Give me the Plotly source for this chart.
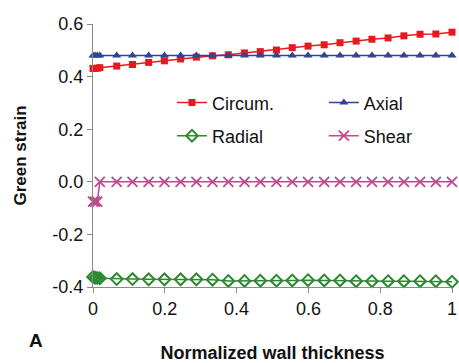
import plotly.graph_objects as go

thickness = [0, 0.006, 0.012, 0.019, 0.066, 0.110, 0.155, 0.199, 0.244, 0.288, 0.333,
             0.377, 0.422, 0.466, 0.511, 0.555, 0.599, 0.644, 0.688, 0.733, 0.777,
             0.822, 0.866, 0.911, 0.955, 1.0]
circum = [0.431, 0.431, 0.432, 0.434, 0.440, 0.446, 0.454, 0.460, 0.467, 0.474, 0.479,
          0.483, 0.490, 0.495, 0.501, 0.510, 0.516, 0.521, 0.529, 0.535, 0.542,
          0.547, 0.555, 0.561, 0.562, 0.569]
axial = [0.48] * 26
radial = [-0.362, -0.365, -0.366, -0.367, -0.370, -0.370, -0.371, -0.371, -0.371, -0.371, -0.372,
          -0.377, -0.377, -0.376, -0.376, -0.375, -0.374, -0.375, -0.375, -0.378, -0.378,
          -0.378, -0.378, -0.378, -0.378, -0.380]
shear = [-0.075, -0.075, -0.075, 0.0, 0.0, 0.0, 0.0, 0.0, 0.0, 0.0, 0.0,
         0.0, 0.0, 0.0, 0.0, 0.0, 0.0, 0.0, 0.0, 0.0, 0.0,
         0.0, 0.0, 0.0, 0.0, 0.0]

x_tickvals = [0, 0.2, 0.4, 0.6, 0.8, 1]
x_ticktext = ["0", "0.2", "0.4", "0.6", "0.8", "1"]
y_tickvals = [-0.4, -0.2, 0.0, 0.2, 0.4, 0.6]
y_ticktext = ["-0.4", "-0.2", "0.0", "0.2", "0.4", "0.6"]

FONT = "Arial, 'Liberation Sans', sans-serif"
RED = "#E8191E"
NAVY = "#2E4593"
GREEN = "#2A8A2E"
MAGENTA = "#C2478F"

fig = go.Figure()
fig.add_trace(go.Scatter(x=thickness, y=circum, name="Circum.", mode="lines+markers",
                         line=dict(color=RED, width=1.5),
                         marker=dict(symbol="square", size=7, color=RED),
                         cliponaxis=False, legend="legend"))
fig.add_trace(go.Scatter(x=thickness, y=axial, name="Axial", mode="lines+markers",
                         line=dict(color=NAVY, width=1.5),
                         marker=dict(symbol="triangle-up", size=8, color=NAVY),
                         cliponaxis=False, legend="legend2"))
fig.add_trace(go.Scatter(x=thickness, y=radial, name="Radial", mode="lines+markers",
                         line=dict(color=GREEN, width=1.5),
                         marker=dict(symbol="diamond-open", size=9, color=GREEN,
                                     line=dict(width=2, color=GREEN)),
                         cliponaxis=False, legend="legend3"))
fig.add_trace(go.Scatter(x=thickness, y=shear, name="Shear", mode="lines+markers",
                         line=dict(color=MAGENTA, width=1.5),
                         marker=dict(symbol="x-thin-open", size=10, color=MAGENTA,
                                     line=dict(width=1.8, color=MAGENTA)),
                         cliponaxis=False, legend="legend4"))

legend_common = dict(orientation="v", xanchor="left", yanchor="middle",
                     font=dict(family=FONT, size=18, color="#111"),
                     bgcolor="rgba(0,0,0,0)", itemwidth=30)

col1, col2 = 0.22, 0.643
row1, row2 = 0.70, 0.574

fig.update_layout(
    width=459, height=363,
    margin=dict(l=93, r=7, t=24, b=76, autoexpand=False),
    paper_bgcolor="white", plot_bgcolor="white",
    font=dict(family=FONT, size=18, color="#111"),
    showlegend=True,
    legend=dict(x=col1, y=row1, **legend_common),
    legend2=dict(x=col2, y=row1, **legend_common),
    legend3=dict(x=col1, y=row2, **legend_common),
    legend4=dict(x=col2, y=row2, **legend_common),
    xaxis=dict(range=[0, 1], tickvals=x_tickvals, ticktext=x_ticktext, automargin=True,
               showgrid=False, zeroline=False, showline=True, linecolor="#8a8a8a",
               linewidth=1, ticks="outside", ticklen=5, tickcolor="#8a8a8a",
               tickfont=dict(family=FONT, size=18, color="#111"),
               title=dict(text="<b>Normalized wall thickness</b>", standoff=30,
                          font=dict(family=FONT, size=18, color="#111"))),
    yaxis=dict(range=[-0.4, 0.6], tickvals=y_tickvals, ticktext=y_ticktext, automargin=True,
               showgrid=False, zeroline=False, showline=True, linecolor="#8a8a8a",
               linewidth=1, ticks="outside", ticklen=5, tickcolor="#8a8a8a",
               tickfont=dict(family=FONT, size=18, color="#111"),
               title=dict(text="<b>Green strain</b>", standoff=21,
                          font=dict(family=FONT, size=17, color="#111"))),
    annotations=[dict(text="<b>A</b>", x=-0.16, y=-0.205, xref="paper", yref="paper",
                      xanchor="center", yanchor="middle", showarrow=False,
                      font=dict(family=FONT, size=19, color="#111"))],
)

fig.write_html("out.html")
